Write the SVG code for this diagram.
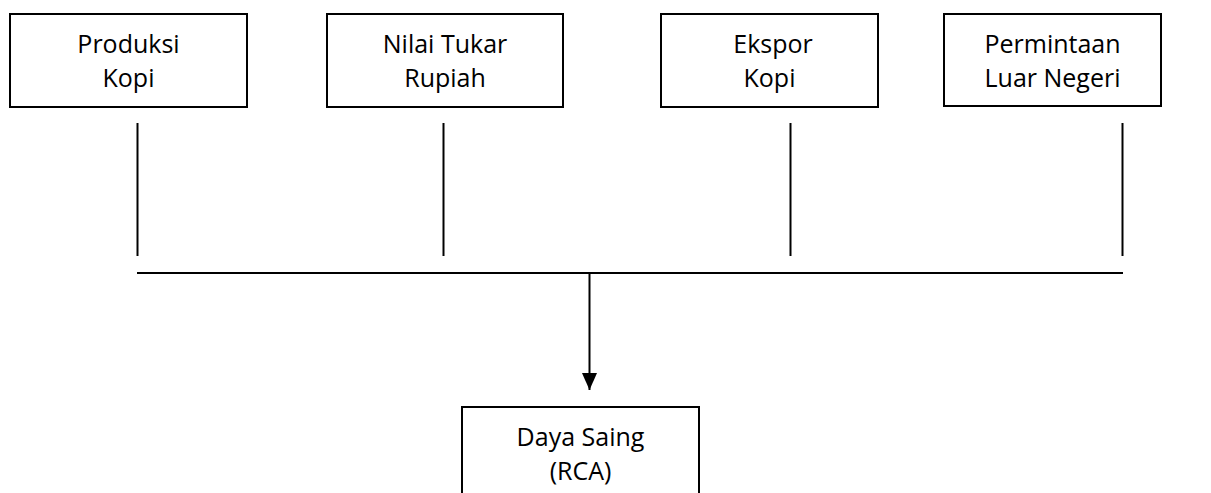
<svg xmlns="http://www.w3.org/2000/svg" width="1211" height="493" viewBox="0 0 1211 493">
<style>
.box{fill:#fff;stroke:#000;stroke-width:2}
.lbl{font-family:"Open Sans","Liberation Sans",sans-serif;font-size:25px;fill:#000;text-anchor:middle}
.conn{stroke:#000;stroke-width:2;fill:none}
</style>
<defs>
<marker id="arr" markerWidth="17" markerHeight="16" refX="17" refY="8" orient="auto" markerUnits="userSpaceOnUse" viewBox="0 0 17 16">
<path d="M0,0.5 L17,8 L0,15.5 Z" fill="#000"/>
</marker>
</defs>
<rect width="1211" height="493" fill="#fff"/>
<g id="produksi-kopi">
<rect class="box" x="10" y="14" width="237" height="93"/>
<text class="lbl" x="128.5" y="53">Produksi</text>
<text class="lbl" x="128.5" y="87">Kopi</text>
</g>
<g id="nilai-tukar-rupiah">
<rect class="box" x="327" y="14" width="236" height="93"/>
<text class="lbl" x="445" y="53">Nilai Tukar</text>
<text class="lbl" x="445" y="87">Rupiah</text>
</g>
<g id="ekspor-kopi">
<rect class="box" x="661" y="14" width="217" height="93"/>
<text class="lbl" x="773" y="53">Ekspor</text>
<text class="lbl" x="769.5" y="87">Kopi</text>
</g>
<g id="permintaan-luar-negeri">
<rect class="box" x="944" y="14" width="217" height="92"/>
<text class="lbl" x="1052.5" y="53">Permintaan</text>
<text class="lbl" x="1052.5" y="87">Luar Negeri</text>
</g>
<g id="daya-saing">
<rect class="box" x="462" y="407" width="237" height="100"/>
<text class="lbl" x="580.5" y="446">Daya Saing</text>
<text class="lbl" x="580.5" y="480">(RCA)</text>
</g>
<g id="connectors">
<line class="conn" x1="137.5" y1="123" x2="137.5" y2="256"/>
<line class="conn" x1="443.5" y1="123" x2="443.5" y2="256"/>
<line class="conn" x1="790.5" y1="123" x2="790.5" y2="256"/>
<line class="conn" x1="1122.5" y1="123" x2="1122.5" y2="256"/>
<line class="conn" x1="137" y1="273" x2="1123" y2="273"/>
<line class="conn" x1="589.5" y1="273" x2="589.5" y2="390" marker-end="url(#arr)"/>
</g>
</svg>
